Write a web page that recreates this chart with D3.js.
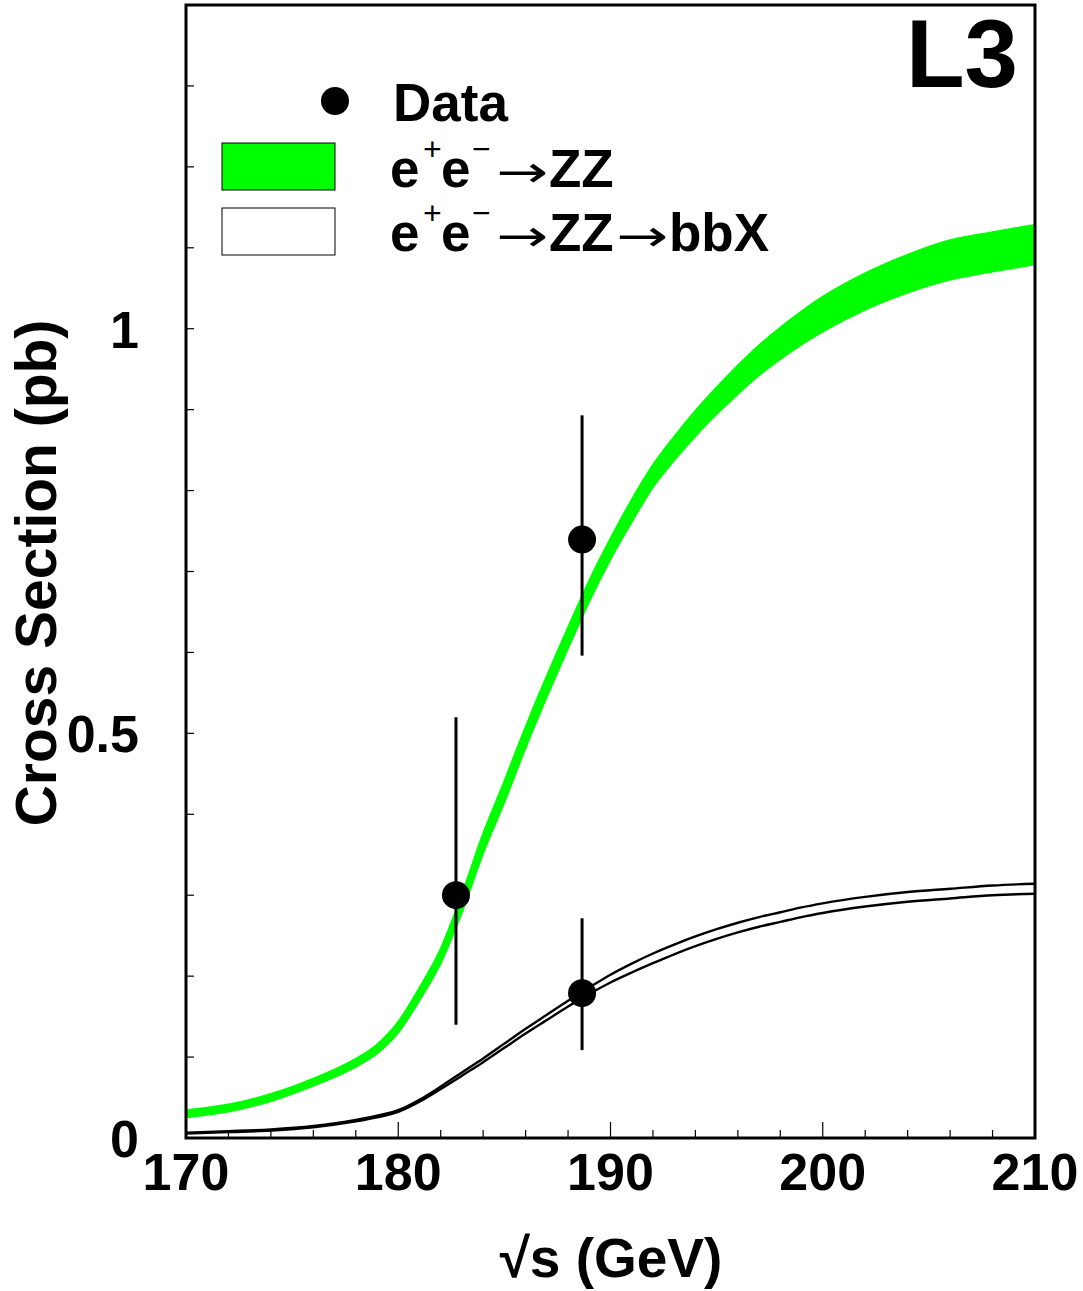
<!DOCTYPE html>
<html><head><meta charset="utf-8">
<script src="https://cdn.jsdelivr.net/npm/d3@7"></script>
<style>body{margin:0;background:#fff}svg{display:block}text{font-family:"Liberation Sans",Arial,Helvetica,sans-serif;font-weight:bold}</style>
</head><body><svg id="c" width="1083" height="1291"></svg>
<script>
const energies = [170,172,174,176,178,179,180,181,182,183,184,185,186,187,188,189,190,191,192,193,194,195,196,197,198,199,200,202,204,206,208,210];
const zzUpper = [.034,.041,.054,.073,.0975,.115,.143,.185,.233,.300,.375,.440,.507,.570,.630,.688,.740,.788,.831,.866,.898,.927,.954,.979,1.001,1.021,1.039,1.068,1.091,1.109,1.119,1.128];
const zzLower = [.026,.033,.046,.065,.0885,.105,.131,.171,.217,.280,.353,.416,.483,.546,.606,.664,.716,.762,.805,.838,.868,.895,.920,.943,.963,.981,.997,1.024,1.045,1.061,1.071,1.080];
const bbUpper = [.0066,.0084,.0106,.0148,.0223,.0275,.0343,.0472,.0635,.081,.0983,.1166,.135,.1523,.1696,.186,.2018,.2155,.228,.239,.249,.258,.266,.273,.279,.285,.290,.298,.304,.308,.312,.3142];
const bbLower = [.0054,.0072,.0092,.0132,.0205,.0255,.0323,.0448,.0605,.077,.0937,.1114,.129,.1457,.1624,.178,.1922,.2045,.216,.227,.237,.246,.254,.261,.267,.273,.278,.286,.292,.296,.300,.3018];
const dataE = [182.72, 188.66, 188.66];
const dataXS = [0.300, 0.7395, 0.179];
const dataHi = [0.520, 0.893, 0.2715];
const dataLo = [0.140, 0.596, 0.1086];
const xTicks = [170,180,190,200,210];
const yTickLabels = ["0","0.5","1"];
const yTickVals = [0,0.5,1];

const svg = d3.select("#c");
const L=186, R=1035, T=5, B=1138;
const x = d3.scaleLinear().domain([170,210]).range([L,R]);
const y = d3.scaleLinear().domain([0,1.4]).range([B,T]);

const zz = energies.map((e,i)=>({e, hi:zzUpper[i], lo:zzLower[i]}));
const bb = energies.map((e,i)=>({e, hi:bbUpper[i], lo:bbLower[i]}));
const curve = d3.curveMonotoneX;

svg.append("clipPath").attr("id","pc").append("rect").attr("x",L).attr("y",T).attr("width",R-L).attr("height",B-T);
const g = svg.append("g").attr("clip-path","url(#pc)");

// green band
g.append("path").datum(zz)
  .attr("d", d3.area().x(d=>x(d.e)).y0(d=>y(d.lo)).y1(d=>y(d.hi)).curve(curve))
  .attr("fill","#00ff00").attr("stroke","#00ff00").attr("stroke-width",2.5).attr("stroke-linejoin","round");
// bbX band
g.append("path").datum(bb)
  .attr("d", d3.area().x(d=>x(d.e)).y0(d=>y(d.lo)).y1(d=>y(d.hi)).curve(curve))
  .attr("fill","#fff");
["hi","lo"].forEach(k=>{
  g.append("path").datum(bb)
   .attr("d", d3.line().x(d=>x(d.e)).y(d=>y(d[k])).curve(curve))
   .attr("fill","none").attr("stroke","#000").attr("stroke-width",2.4);
});

// error bars and points
dataE.forEach((e,i)=>{
  svg.append("line").attr("x1",x(e)).attr("x2",x(e)).attr("y1",y(dataHi[i])).attr("y2",y(dataLo[i]))
    .attr("stroke","#000").attr("stroke-width",3);
  svg.append("circle").attr("cx",x(e)).attr("cy",y(dataXS[i])).attr("r",14).attr("fill","#000");
});

// ticks
d3.range(170,211,2).forEach(v=>{
  const major = v%10===0;
  svg.append("line").attr("x1",x(v)).attr("x2",x(v)).attr("y1",B).attr("y2",B-(major?16:8))
    .attr("stroke","#000").attr("stroke-width",1.2);
});
d3.range(0,1.401,0.1).forEach(v=>{
  svg.append("line").attr("x1",L).attr("x2",L+8).attr("y1",y(v)).attr("y2",y(v))
    .attr("stroke","#000").attr("stroke-width",1.2);
});

// frame
svg.append("rect").attr("x",L).attr("y",T).attr("width",R-L).attr("height",B-T)
  .attr("fill","none").attr("stroke","#000").attr("stroke-width",3);

// tick labels
xTicks.forEach(v=>{
  svg.append("text").attr("x",x(v)).attr("y",1190).attr("text-anchor","middle")
    .attr("font-size",52).text(String(v));
});
yTickVals.forEach((v,i)=>{
  svg.append("text").attr("x",139).attr("y",y(v)+19).attr("text-anchor","end")
    .attr("font-size",52).text(yTickLabels[i]);
});

// axis titles
svg.append("text").attr("x",611).attr("y",1277).attr("text-anchor","middle").attr("font-size",55).text("√s (GeV)");
svg.append("text").attr("transform","translate(56,573) rotate(-90)").attr("text-anchor","middle").attr("font-size",57).text("Cross Section (pb)");

// L3
svg.append("text").attr("x",1018).attr("y",87).attr("text-anchor","end").attr("font-size",96).text("L3");

// legend
svg.append("circle").attr("cx",335).attr("cy",101).attr("r",14).attr("fill","#000");
svg.append("text").attr("x",393).attr("y",121).attr("font-size",53).text("Data");
svg.append("rect").attr("x",222).attr("y",143).attr("width",113).attr("height",47).attr("fill","#00ff00").attr("stroke","#000").attr("stroke-width",1);
svg.append("rect").attr("x",222).attr("y",208).attr("width",113).attr("height",47).attr("fill","#fff").attr("stroke","#000").attr("stroke-width",1);

function proc(yb, extra){
  const t = svg.append("text").attr("y",yb).attr("font-size",53);
  t.append("tspan").attr("x",390).text("e");
  t.append("tspan").attr("x",423).attr("dy",-27).attr("font-size",32).attr("font-weight","normal").text("+");
  t.append("tspan").attr("x",441).attr("dy",27).text("e");
  t.append("tspan").attr("x",472).attr("dy",-27).attr("font-size",32).attr("font-weight","normal").text("−");
  t.append("tspan").attr("x",496).attr("dy",27).attr("font-weight","normal").attr("font-family","DejaVu Sans").attr("font-size",44).attr("textLength",52).attr("lengthAdjust","spacingAndGlyphs").text("→");
  t.append("tspan").attr("x",549).text("ZZ");
  if(extra){
    t.append("tspan").attr("x",616).attr("font-weight","normal").attr("font-family","DejaVu Sans").attr("font-size",44).attr("textLength",52).attr("lengthAdjust","spacingAndGlyphs").text("→");
    t.append("tspan").attr("x",669).text("bbX");
  }
}
proc(187,false);
proc(251,true);
</script></body></html>
